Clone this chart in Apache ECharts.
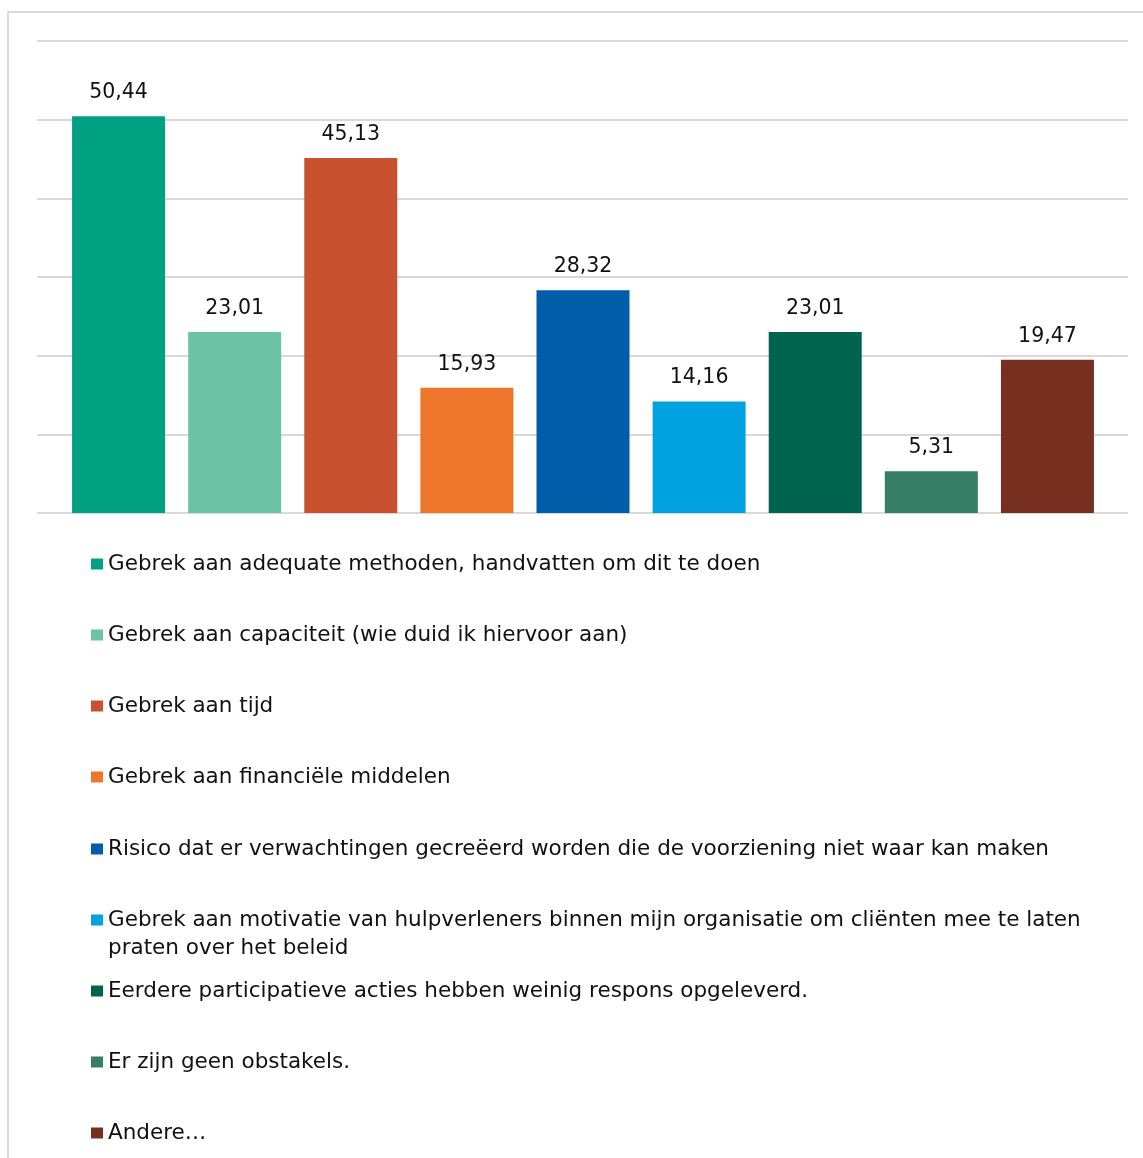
<!DOCTYPE html>
<html>
<head>
<meta charset="utf-8">
<script src="https://cdn.jsdelivr.net/npm/echarts@6/dist/echarts.min.js"></script>
<style>
  html, body { margin: 0; padding: 0; background: #fff; }
  #chart { position: absolute; left: 0; top: 0; width: 1143px; height: 1158px; }
  #frame { position: absolute; left: 7px; top: 11px; width: 1300px; height: 1300px;
           border-left: 2px solid #d9d9d9; border-top: 2px solid #d9d9d9;
           pointer-events: none; z-index: 2; }
</style>
</head>
<body>
<div id="chart"></div>
<div id="frame"></div>
<script>
// Obstacles mentioned by respondents (percentages)
const categories = [
  'Gebrek aan adequate methoden, handvatten om dit te doen',
  'Gebrek aan capaciteit (wie duid ik hiervoor aan)',
  'Gebrek aan tijd',
  'Gebrek aan financiële middelen',
  'Risico dat er verwachtingen gecreëerd worden die de voorziening niet waar kan maken',
  'Gebrek aan motivatie van hulpverleners binnen mijn organisatie om cliënten mee te laten praten over het beleid',
  'Eerdere participatieve acties hebben weinig respons opgeleverd.',
  'Er zijn geen obstakels.',
  'Andere…'
];
const values = [50.44, 23.01, 45.13, 15.93, 28.32, 14.16, 23.01, 5.31, 19.47];
const colors = ['#00A182', '#6CC2A5', '#C8522F', '#EE762B', '#005DAA', '#00A3DF', '#00634E', '#367F66', '#77301F'];
const yTicks = { min: 0, max: 60, interval: 10 };

const FONT = "'DejaVu Sans', sans-serif";
const fmt = v => v.toFixed(2).replace('.', ',');

// vertical centre of each legend row
const legendCentres = [564, 635, 706, 777, 849, 920, 991, 1062, 1133];

const series = categories.map((name, i) => ({
  name: name,
  type: 'bar',
  xAxisIndex: 0,
  yAxisIndex: 0,
  barWidth: 93,
  barGap: '-100%',
  itemStyle: { color: colors[i] },
  label: {
    show: true,
    position: 'top',
    distance: 13,
    color: '#111',
    fontFamily: FONT,
    fontSize: 20.5,
    formatter: p => fmt(p.value)
  },
  data: values.map((v, j) => (j === i ? v : '-'))
}));

// The long item wraps onto a second line; an empty leading line keeps the
// first line level with its colour swatch.
const legends = categories.map((name, i) => {
  const wrapped = i === 5;
  return {
    data: [name],
    orient: 'vertical',
    left: 91,
    top: wrapped ? legendCentres[i] - 42 : legendCentres[i] - 14,
    padding: 0,
    itemWidth: 12,
    itemHeight: 11,
    icon: 'rect',
    selectedMode: false,
    formatter: wrapped
      ? n => ' \n' + n.replace(' praten over', '\npraten over')
      : n => n,
    textStyle: {
      color: '#111',
      fontFamily: FONT,
      fontSize: 21.5,
      lineHeight: 28
    }
  };
});

const option = {
  animation: false,
  backgroundColor: '#fff',
  grid: [
    { left: 60.5, right: 37.5, top: 41, bottom: 645 },
    { left: 37, right: 15, top: 41, bottom: 645 }
  ],
  xAxis: [
    { type: 'category', gridIndex: 0, data: categories.map(() => ''),
      axisLine: { show: false }, axisTick: { show: false }, axisLabel: { show: false } },
    { type: 'category', gridIndex: 1, data: [''], show: false }
  ],
  yAxis: [
    { type: 'value', gridIndex: 0, min: yTicks.min, max: yTicks.max, interval: yTicks.interval,
      show: false, splitLine: { show: false } },
    { type: 'value', gridIndex: 1, min: yTicks.min, max: yTicks.max, interval: yTicks.interval,
      axisLine: { show: false }, axisTick: { show: false }, axisLabel: { show: false },
      splitLine: { show: true, lineStyle: { color: '#d9d9d9', width: 2 } } }
  ],
  legend: legends,
  series: series
};

const chart = echarts.init(document.getElementById('chart'), null, { renderer: 'canvas' });
chart.setOption(option);
</script>
</body>
</html>
